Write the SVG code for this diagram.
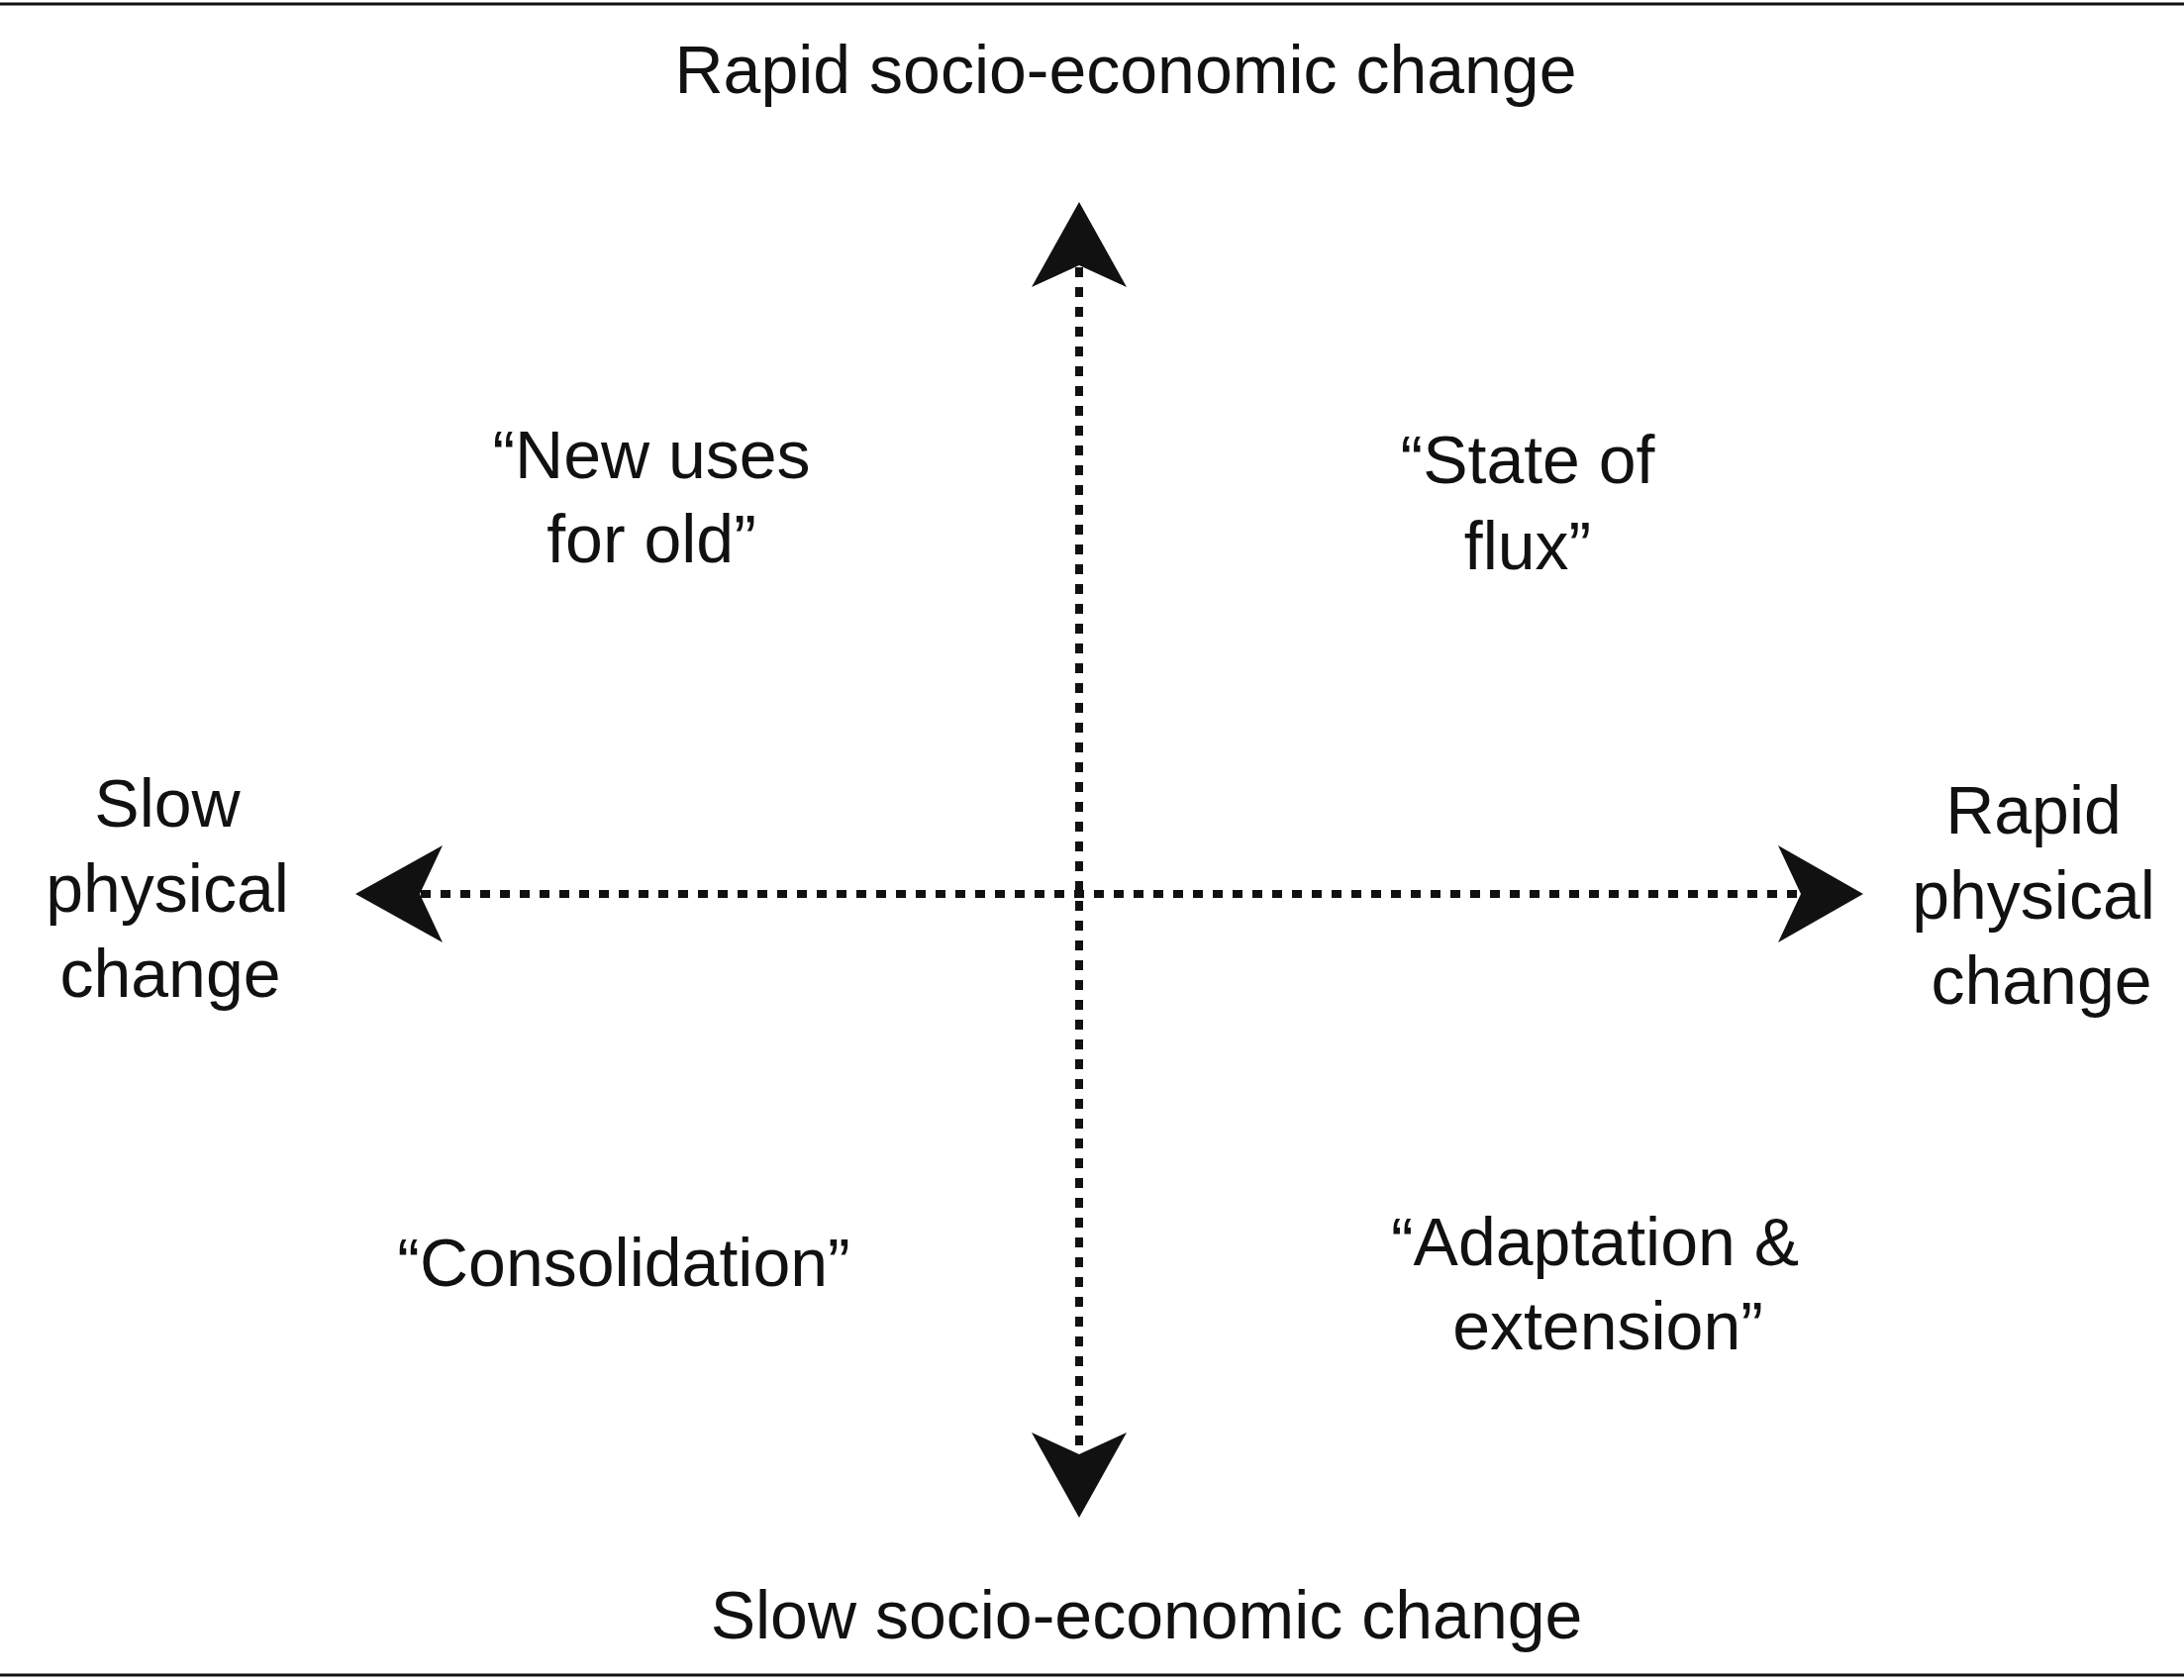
<svg xmlns="http://www.w3.org/2000/svg" width="2206" height="1697" viewBox="0 0 2206 1697">
<style>
text{font-family:"Liberation Sans",Arial,sans-serif;font-size:68px;fill:#111;text-anchor:middle}
.ax{stroke:#111;stroke-width:8;stroke-dasharray:10 10;fill:none}
.hd{fill:#111}
</style>
<rect width="2206" height="1697" fill="#fff"/>
<line x1="0" y1="4" x2="2206" y2="4" stroke="#111" stroke-width="3"/>
<line x1="0" y1="1692" x2="2206" y2="1692" stroke="#111" stroke-width="3"/>
<g id="connectors">
<line class="ax" x1="1090" y1="270" x2="1090" y2="1465"/>
<line class="ax" x1="425" y1="903" x2="1820" y2="903"/>
<path class="hd" d="M1090 204 L1138 290 L1090 268 L1042 290 Z"/>
<path class="hd" d="M1090 1533 L1138 1447 L1090 1469 L1042 1447 Z"/>
<path class="hd" d="M359 903 L447 854 L424 903 L447 952 Z"/>
<path class="hd" d="M1882 903 L1796 854 L1819 903 L1796 952 Z"/>
</g>
<g id="top"><text x="1137" y="94">Rapid socio-economic change</text></g>
<g id="bottom"><text x="1158" y="1655">Slow socio-economic change</text></g>
<g id="left"><text x="169" y="835">Slow</text><text x="169" y="921">physical</text><text x="172" y="1007">change</text></g>
<g id="right"><text x="2054" y="842">Rapid</text><text x="2054" y="928">physical</text><text x="2062" y="1014">change</text></g>
<g id="q1"><text x="658" y="483">“New uses</text><text x="658" y="568">for old”</text></g>
<g id="q2"><text x="1543" y="488">“State of</text><text x="1543" y="575">flux”</text></g>
<g id="q3"><text x="630" y="1299">“Consolidation”</text></g>
<g id="q4"><text x="1611" y="1278">“Adaptation &amp;</text><text x="1624" y="1363">extension”</text></g>
</svg>
